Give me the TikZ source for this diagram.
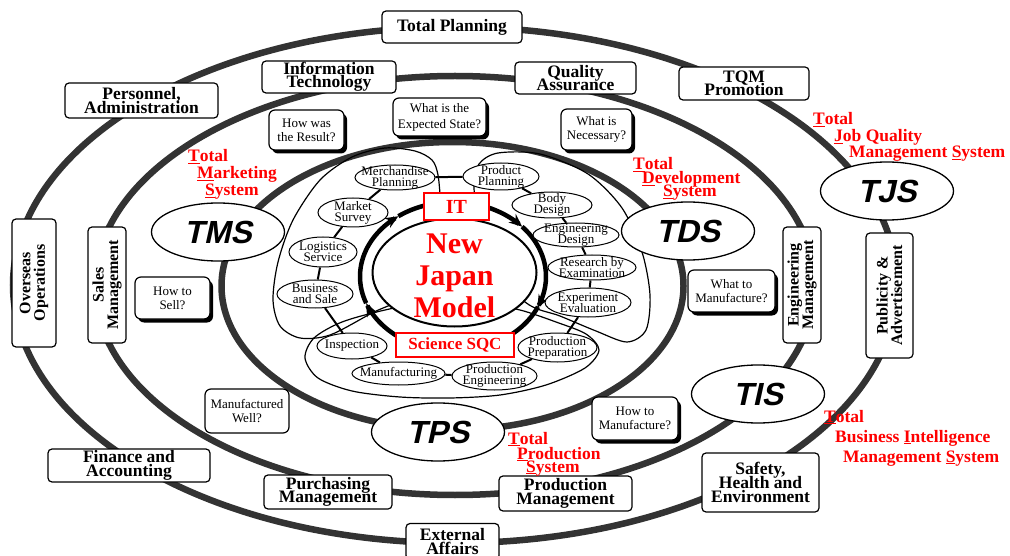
\documentclass[tikz,border=0pt]{standalone}
\usepackage{fontspec}
\setmainfont{Liberation Serif}
\newfontfamily\arialbi{Liberation Sans}[FakeSlant=0.22]
\usetikzlibrary{shapes.geometric,arrows.meta,shadows}
\definecolor{ringgray}{RGB}{51,51,51}
\newcommand{\mytight}{\lineskiplimit=-100pt\relax}
\begin{document}
\begin{tikzpicture}[x=1pt,y=-1pt,
  ring/.style={draw=ringgray,line width=6.5},
  lobe/.style={draw=black,line width=1.2},
  cring/.style={draw=black,line width=4.5},
  chain/.style={draw=black,line width=2},
  mbox/.style={draw=black,fill=white,rounded corners=4,line width=1.2,inner sep=0,align=center,font=\bfseries\fontsize{17.5}{13.5}\selectfont\mytight},
  vbox/.style={mbox,rotate=90,font=\bfseries\fontsize{16}{14.5}\selectfont\mytight},
  qbox/.style={draw=black,fill=white,rounded corners=6,line width=1.2,inner sep=0,align=center,font=\fontsize{13}{14}\selectfont\mytight},
  qsh/.style={qbox,general shadow={fill=black,shadow xshift=3pt,shadow yshift=-3.5pt}},
  tell/.style={ellipse,draw=black,fill=white,line width=1.3,inner sep=0,minimum width=133,minimum height=58,font=\arialbi\bfseries\fontsize{32}{32}\selectfont},
  sell/.style={ellipse,draw=black,fill=white,line width=1,inner sep=0},
  stxt/.style={align=center,inner sep=0,font=\fontsize{13}{11}\selectfont\mytight},
  redlab/.style={text=red,inner sep=0,anchor=base west,font=\bfseries\fontsize{17.5}{17.5}\selectfont},
  redbox/.style={draw=red,fill=white,line width=1.3,inner sep=0,text=red},
]
\useasboundingbox (0,0) rectangle (1010,556);

% rings
\draw[ring] (455,285) ellipse [x radius=442, y radius=258];
\draw[ring] (455,285.5) ellipse [x radius=360, y radius=209.5];
\draw[ring] (452.5,286) ellipse [x radius=231, y radius=144];

% lobes
\draw[lobe] plot[smooth cycle] coordinates {(445,240) (441,205) (438,175) (432,160) (415,151) (385,148) (352,157) (320,180) (293,220) (278,262) (273,300) (280,326) (300,338) (330,335) (372,313) (412,292)};
\draw[lobe] plot[smooth cycle] coordinates {(478,250) (477,215) (474,186) (479,164) (498,153) (540,154) (588,174) (622,208) (642,252) (650,295) (646,330) (627,342) (596,331) (560,316) (525,302)};
\draw[lobe] plot[smooth cycle] coordinates {(430,302) (385,310) (342,322) (314,338) (305,358) (318,378) (352,391) (400,397) (450,398) (500,395) (546,385) (585,368) (599,350) (586,334) (556,322) (520,310) (480,303)};

% circulating arrows
\foreach \a/\b in {100/159,159/234,234/318,318/385}
  \draw[cring,-{Stealth[length=13pt,width=11pt]}] plot[domain=\a:\b,samples=30,variable=\t] ({453+93*cos(\t)},{276.5+74.5*sin(\t)});
\draw[cring] plot[domain=384:461,samples=30,variable=\t] ({453+93*cos(\t)},{276.5+74.5*sin(\t)});

% centre
\node[ellipse,draw=black,fill=white,line width=2,minimum width=164,minimum height=108,inner sep=0] (njm) at (454.5,272.5) {};
\node[text=red,align=center,inner sep=0,font=\bfseries\fontsize{30}{32}\selectfont\mytight] (njmt) at (454.5,276) {New\\Japan\\Model};
\node[redbox,minimum width=65,minimum height=27,font=\bfseries\fontsize{20}{20}\selectfont] (itb) at (456.5,206.5) {IT};
\node[redbox,minimum width=118,minimum height=24,font=\bfseries\fontsize{17}{17}\selectfont] (sqc) at (455,345) {Science SQC};

% small ellipses
\node[sell,minimum width=80,minimum height=25,label={[stxt]center:{Merchandise\\Planning}}] (mp) at (395,177.5) {};
\node[sell,minimum width=76,minimum height=27,label={[stxt]center:{Product\\Planning}}] (pp) at (501,176.5) {};
\node[sell,minimum width=80,minimum height=26,label={[stxt]center:{Body\\Design}}] (bd) at (552,205) {};
\node[sell,minimum width=86,minimum height=24,label={[stxt]center:{Engineering\\Design}}] (ed) at (576,235) {};
\node[sell,minimum width=88,minimum height=25,label={[stxt]center:{Research by\\Examination}}] (re) at (592,267.5) {};
\node[sell,minimum width=86,minimum height=29,label={[stxt]center:{Experiment\\Evaluation}}] (ee) at (588,302.5) {};
\node[sell,minimum width=79,minimum height=29,label={[stxt]center:{Production\\Preparation}}] (ppr) at (557.5,347.5) {};
\node[sell,minimum width=85,minimum height=28,label={[stxt]center:{Production\\Engineering}}] (pe) at (494.5,376) {};
\node[sell,minimum width=93,minimum height=23,label={[stxt]center:{Manufacturing}}] (mf) at (398.5,373.5) {};
\node[sell,minimum width=70,minimum height=26,label={[stxt]center:{Inspection}}] (ins) at (352,346) {};
\node[sell,minimum width=76,minimum height=28,label={[stxt]center:{Business\\and Sale}}] (bs) at (315,294) {};
\node[sell,minimum width=68,minimum height=30,label={[stxt]center:{Logistics\\Service}}] (ls) at (323,252) {};
\node[sell,minimum width=70,minimum height=29,label={[stxt]center:{Market\\Survey}}] (ms) at (353,212.5) {};
\foreach \a/\b in {mp/pp,pp/bd,bd/ed,ed/re,re/ee,ee/ppr,ppr/pe,pe/mf,mf/ins,ins/bs,bs/ls,ls/ms,ms/mp}
  \draw[chain] (\a) -- (\b);

% system ellipses
\node[tell] (tms) at (218,232) {TMS};
\node[tell] (tds) at (688,231) {TDS};
\node[tell] (tjs) at (887,191) {TJS};
\node[tell] (tps) at (438,432) {TPS};
\node[tell] (tis) at (758,394) {TIS};

% question boxes
\node[qsh,minimum width=75,minimum height=40] (q1) at (306.5,130) {How was\\the Result?};
\node[qsh,minimum width=93,minimum height=38,font=\fontsize{13}{16}\selectfont\mytight] (q2) at (439.5,117) {What is the\\Expected State?};
\node[qsh,minimum width=71,minimum height=41] (q3) at (596.5,129.5) {What is\\Necessary?};
\node[qsh,minimum width=75,minimum height=42] (q4) at (172.5,298) {How to\\Sell?};
\node[qsh,minimum width=87,minimum height=42] (q5) at (731.5,291) {What to\\Manufacture?};
\node[qsh,minimum width=86,minimum height=43] (q6) at (635,418.5) {How to\\Manufacture?};
\node[qbox,minimum width=84,minimum height=44] (q7) at (247,411) {Manufactured\\Well?};

% function boxes
\node[mbox,minimum width=140,minimum height=32] (tp) at (452,27) {Total Planning};
\node[mbox,minimum width=134,minimum height=32] (itn) at (329,77) {Information\\Technology};
\node[mbox,minimum width=121,minimum height=32] (qa) at (575.5,78) {Quality\\Assurance};
\node[mbox,minimum width=130,minimum height=33] (tqm) at (744,83.5) {TQM\\Promotion};
\node[mbox,minimum width=153,minimum height=35] (pa) at (141.5,100.5) {Personnel,\\Administration};
\node[vbox,minimum width=128,minimum height=44] (oo) at (34,283) {Overseas\\Operations};
\node[vbox,minimum width=116,minimum height=38] (sm) at (107,285) {Sales\\Management};
\node[vbox,minimum width=116,minimum height=38] (em) at (802,285) {Engineering\\Management};
\node[vbox,minimum width=125,minimum height=47] (pub) at (889.5,295.5) {Publicity \&\\Advertisement};
\node[mbox,minimum width=162,minimum height=33] (fa) at (129,465.5) {Finance and\\Accounting};
\node[mbox,minimum width=128,minimum height=34] (pm) at (328,492) {Purchasing\\Management};
\node[mbox,minimum width=133,minimum height=35] (prm) at (565.5,493.5) {Production\\Management};
\node[mbox,minimum width=93,minimum height=36] (ea) at (452.5,541.5) {External\\Affairs};
\node[mbox,minimum width=117,minimum height=59,font=\bfseries\fontsize{17.5}{14}\selectfont\mytight] (she) at (760.5,482.5) {Safety,\\Health and\\Environment};

% red system labels
\node[redlab] (tmsa) at (188,162) {\underline{T}otal};
\node[redlab] (tmsb) at (197,179) {\underline{M}arketing};
\node[redlab] (tmsc) at (205,196) {\underline{S}ystem};
\node[redlab] (tdsa) at (633,170) {\underline{T}otal};
\node[redlab] (tdsb) at (642,184) {\underline{D}evelopment};
\node[redlab] (tdsc) at (663,197) {\underline{S}ystem};
\node[redlab] (tjsa) at (813,125) {\underline{T}otal};
\node[redlab] (tjsb) at (834,142) {\underline{J}ob Quality};
\node[redlab] (tjsc) at (849,158) {Management \underline{S}ystem};
\node[redlab] (tpsa) at (508,444) {\underline{T}otal};
\node[redlab] (tpsb) at (517,459) {\underline{P}roduction};
\node[redlab] (tpsc) at (526,472) {\underline{S}ystem};
\node[redlab] (tisa) at (824,422) {\underline{T}otal};
\node[redlab] (tisb) at (835,442) {Business \underline{I}ntelligence};
\node[redlab] (tisc) at (843,462) {Management \underline{S}ystem};
\end{tikzpicture}
\end{document}
